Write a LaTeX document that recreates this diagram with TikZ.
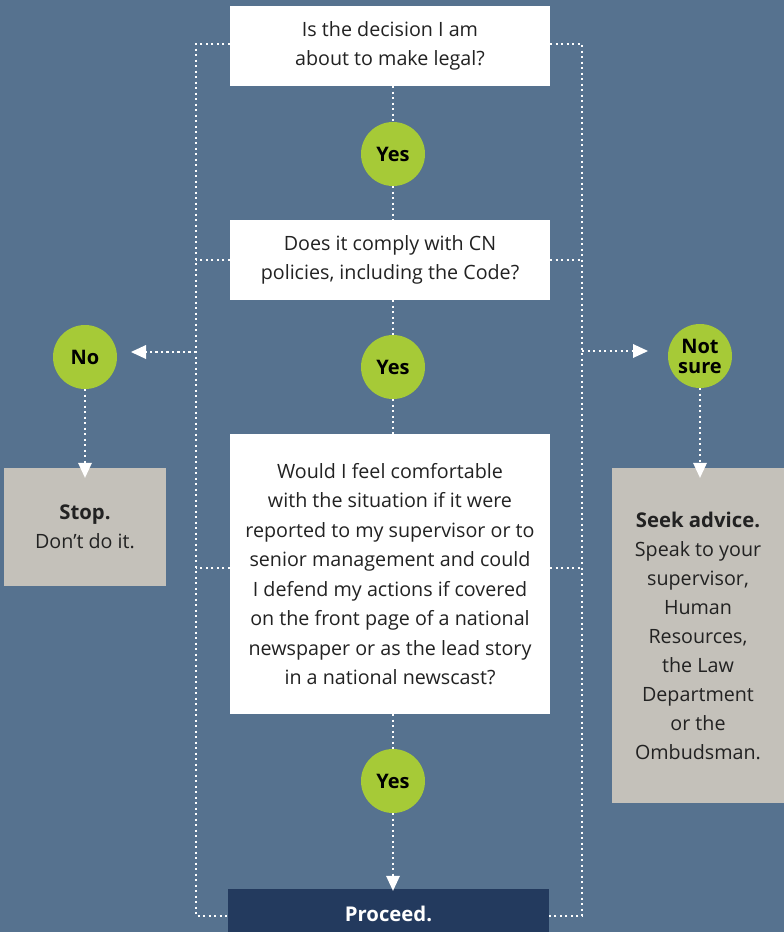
\documentclass[tikz,border=0pt]{standalone}
\usepackage{fontspec}
\setmainfont{Open Sans}
\usetikzlibrary{arrows.meta}
\definecolor{bg}{HTML}{56728F}
\definecolor{grn}{HTML}{A6CA37}
\definecolor{gry}{HTML}{C4C1BA}
\definecolor{navy}{HTML}{233A5E}
\definecolor{txt}{HTML}{222222}
\newcommand{\bigb}{\bfseries\fontsize{20.3}{29}\selectfont}
\begin{document}
\begin{tikzpicture}[x=1pt,y=-1pt,
  qbox/.style={fill=white,text=txt,align=center,inner sep=0pt,font=\fontsize{19.7}{29.5}\selectfont},
  yesc/.style={circle,fill=grn,minimum size=64pt,inner sep=0pt,align=center,font=\bfseries\fontsize{20}{20}\selectfont,text=black},
  gbox/.style={fill=gry,text=txt,align=center,inner sep=0pt,font=\fontsize{19.7}{29}\selectfont},
  dots/.style={white,line width=2.2pt,dash pattern=on 2.2pt off 3.3pt},
  arr/.style={dots,-{Triangle[width=14pt,length=15pt,fill=white,line width=0pt,sep=0pt]}}
]
\useasboundingbox[fill=bg] (0,0) rectangle (784,932);
% boxes
\node[qbox,minimum width=320pt,minimum height=80pt] (q1) at (390,46) {Is the decision I am\\about to make legal?};
\node[qbox,minimum width=320pt,minimum height=80pt] (q2) at (390,260) {Does it comply with CN\\policies, including the Code?};
\node[qbox,minimum width=320pt,minimum height=280pt] (q3) at (390,574) {Would I feel comfortable\\with the situation if it were\\reported to my supervisor or to\\senior management and could\\I defend my actions if covered\\on the front page of a national\\newspaper or as the lead story\\in a national newscast?};
\node[fill=navy,text=white,minimum width=321pt,minimum height=86pt,inner sep=0pt] (pr) at (388.5,932) {};
\node[text=white,font=\bigb] (prt) at (388.5,914) {Proceed.};
% circles
\node[yesc] (y1) at (393,154) {Yes};
\node[yesc] (y2) at (393,367) {Yes};
\node[yesc] (y3) at (393,781) {Yes};
\node[yesc] (no) at (85,357) {No};
\node[yesc] (ns) at (700,356) {Not\\sure};
% side boxes
\node[gbox,minimum width=162pt,minimum height=118pt] (stop) at (85,527) {{\bigb Stop.}\\Don’t do it.};
\node[gbox,minimum width=172pt,minimum height=335pt] (seek) at (698,635.5) {{\bigb Seek advice.}\\Speak to your\\supervisor,\\Human\\Resources,\\the Law\\Department\\or the\\Ombudsman.};
% frame coordinates
\coordinate (lt) at (196,44);
\coordinate (lb) at (196,916);
\coordinate (rt) at (582,44);
\coordinate (rb) at (582,916);
\coordinate (lm) at (196,352);
\coordinate (rm) at (582,351);
% central line
\draw[dots] (q1.south -| y1) -- (y1.north);
\draw[dots] (y1.south) -- (q2.north -| y1);
\draw[dots] (q2.south -| y2) -- (y2.north);
\draw[dots] (y2.south) -- (q3.north -| y2);
\draw[dots] (q3.south -| y3) -- (y3.north);
\draw[arr] (y3.south) -- ([yshift=-2pt]pr.north -| y3);
% left frame
\draw[dots] (q1.west |- lt) -- (lt) -- (lb) -- (pr.west |- lb);
\draw[dots] (q2.west |- 0,260) -- (196,260);
\draw[dots] (q3.west |- 0,568) -- (196,568);
% right frame
\draw[dots] (q1.east |- rt) -- (rt) -- (rb) -- (pr.east |- rb);
\draw[dots] (q2.east |- 0,260) -- (582,260);
\draw[dots] (q3.east |- 0,568) -- (582,568);
% side arrows
\draw[arr] (lm) -- (131,352);
\draw[arr] (rm) -- (648,351);
\draw[arr] (no.south) -- ([yshift=-10pt]stop.north -| no);
\draw[arr] (ns.south) -- ([yshift=-10pt]seek.north -| ns);
\end{tikzpicture}
\end{document}
